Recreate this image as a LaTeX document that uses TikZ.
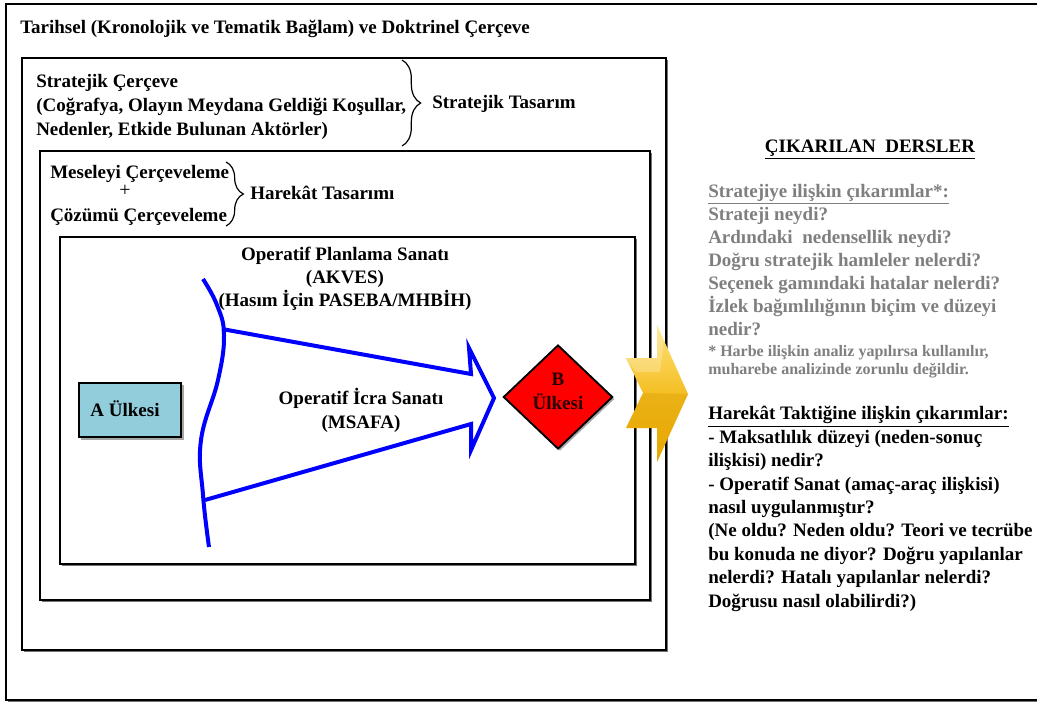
\documentclass[tikz,border=0pt]{standalone}
\usepackage{fontspec}
\setmainfont{Liberation Serif}
\usetikzlibrary{decorations.pathreplacing,shapes.geometric,shadows,calc}
\definecolor{abox}{HTML}{92CDDC}
\definecolor{graytxt}{HTML}{7F7F7F}
\definecolor{gold1}{HTML}{FFE27A}
\definecolor{gold2}{HTML}{F0B000}
\definecolor{gold3}{HTML}{D99A00}
\begin{document}
\begin{tikzpicture}[x=0.75pt,y=-0.75pt,
  frame/.style={draw=black, line width=1.6pt, fill=white,
    drop shadow={shadow xshift=1.2pt,shadow yshift=-1.2pt,opacity=0.55,fill=black}},
  txt/.style={font=\fontsize{14.25}{17.2}\selectfont\bfseries, inner sep=0pt},
  txtb/.style={font=\fontsize{14.25}{17.55}\selectfont\bfseries, inner sep=0pt},
  smalltxt/.style={font=\fontsize{12}{13.5}\selectfont\bfseries, inner sep=0pt},
  bracefig/.style={decorate, decoration={brace, amplitude=#1}, line width=0.9pt},
  blueln/.style={draw=blue, line width=3pt},
  abx/.style={rectangle, draw=black, line width=1.6pt, fill=abox, minimum width=77pt, minimum height=41pt,
    drop shadow={shadow xshift=2pt,shadow yshift=-2pt,opacity=0.35,fill=black}},
  bdia/.style={diamond, draw=black, line width=1.4pt, fill=red, minimum width=82pt, minimum height=78pt,
    inner sep=0pt,
    drop shadow={shadow xshift=1.5pt,shadow yshift=-1.5pt,opacity=0.35,fill=black}}
]
\useasboundingbox (0,0) rectangle (1037,704);
\fill[white] (0,0) rectangle (1037,704);

% frames
\draw[frame] (6,4) rectangle (1046,700);
\draw[frame] (22,58) rectangle (666,650);
\draw[frame] (40,151) rectangle (650,600);
\draw[frame] (60,237) rectangle (635,564);

% title
\node[txt, anchor=base west] (title) at (20,33) {Tarihsel (Kronolojik ve Tematik Bağlam) ve Doktrinel Çerçeve};

% strategic frame (anchor = baseline of last line)
\node[txt, font=\fontsize{14.25}{18}\selectfont\bfseries, anchor=base west, align=left] (strat) at (36,135)
  {Stratejik Çerçeve\\(Coğrafya, Olayın Meydana Geldiği Koşullar,\\Nedenler, Etkide Bulunan Aktörler)};
\coordinate (sb1) at (402,60);
\coordinate (sb2) at (402,146);
\draw[bracefig=14pt] (sb1) -- (sb2);
\node[txt, anchor=base west] (stas) at (432,108) {Stratejik Tasarım};

% operational design
\node[txt, anchor=base west] (mes) at (50,178) {Meseleyi Çerçeveleme};
\node[txt, font=\fontsize{15}{17}\selectfont] (plus) at (125,191) {+};
\node[txt, anchor=base west] (coz) at (50,221) {Çözümü Çerçeveleme};
\coordinate (hb1) at (226,162);
\coordinate (hb2) at (226,226);
\draw[bracefig=13pt] (hb1) -- (hb2);
\node[txt, anchor=base west] (htas) at (250,199) {Harekât Tasarımı};

% operational art
\node[txt, font=\fontsize{14.25}{17}\selectfont\bfseries, align=center, anchor=base] (opl) at (345,306)
  {Operatif Planlama Sanatı\\(AKVES)\\(Hasım İçin PASEBA/MHBİH)};
\node[abx] (A) at (130,410) {};
\node[txt, anchor=base] (Atxt) at (125,416) {A Ülkesi};
\node[bdia] (B) at (558,397) {};
\node[txt, font=\fontsize{14.25}{17.3}\selectfont\bfseries, text=black!85!red, align=center, anchor=base] (Btxt) at (558,409) {B\\Ülkesi};
\node[txt, font=\fontsize{14.25}{18}\selectfont\bfseries, align=center, anchor=base] (oic) at (361,428)
  {Operatif İcra Sanatı\\(MSAFA)};

% blue arrow figure
\draw[blueln] plot[smooth, tension=0.7] coordinates {(203,279) (217,305) (224,335) (218,380) (201,440) (203,495) (209,547)};
\draw[blueln, line join=miter] (222,329) -- (471,374) -- (469,348) -- (494,398) -- (471,450) -- (471,424) -- (205,500);

% yellow chevron
\shade[top color=gold1, bottom color=gold2, middle color=gold2!70!gold1]
  (626,358) -- (657,358) -- (657,325) -- (688,394) -- (657,462) -- (657,428) -- (626,428) -- (643,393) -- cycle;
\fill[gold3, opacity=0.35] (643,393) -- (688,394) -- (657,462) -- (657,428) -- (626,428) -- cycle;
\fill[white, opacity=0.25] (626,358) -- (657,358) -- (657,325) -- (664,340) -- (660,372) -- (636,372) -- cycle;

% lessons learned (anchor = baseline of last line)
\node[txt, anchor=base] (cik) at (870,152) {\underline{ÇIKARILAN\ \ DERSLER}};
\node[txt, text=graytxt, anchor=base west, align=left] (sg) at (708,335)
  {\underline{Stratejiye ilişkin çıkarımlar*:}\\Strateji neydi?\\Ardındaki\ \ nedensellik neydi?\\Doğru stratejik hamleler nelerdi?\\Seçenek gamındaki hatalar nelerdi?\\İzlek bağımlılığının biçim ve düzeyi\\nedir?};
\node[smalltxt, text=graytxt, anchor=base west, align=left] (fn) at (708,374)
  {* Harbe ilişkin analiz yapılırsa kullanılır,\\muharebe analizinde zorunlu değildir.};
\node[txtb, anchor=base west, align=left] (ht) at (708,607)
  {\underline{Harekât Taktiğine ilişkin çıkarımlar:}\\- Maksatlılık düzeyi (neden-sonuç\\ilişkisi) nedir?\\- Operatif Sanat (amaç-araç ilişkisi)\\nasıl uygulanmıştır?\\(Ne oldu? Neden oldu? Teori ve tecrübe\\bu konuda ne diyor? Doğru yapılanlar\\nelerdi? Hatalı yapılanlar nelerdi?\\Doğrusu nasıl olabilirdi?)};
\end{tikzpicture}
\end{document}
